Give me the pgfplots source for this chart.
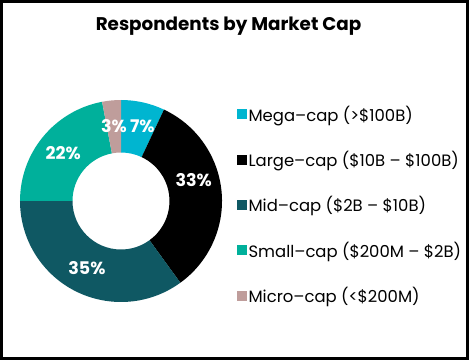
\documentclass[border=0pt]{standalone}
\usepackage{pgfplots}
\pgfplotsset{compat=1.18}
\usepackage{pgfplotstable}
\usepackage{fontspec}
\setmainfont{Poppins}
\definecolor{cMega}{HTML}{00B5D0}
\definecolor{cLarge}{HTML}{000000}
\definecolor{cMid}{HTML}{0F5863}
\definecolor{cSmall}{HTML}{00B09B}
\definecolor{cMicro}{HTML}{BF9D9B}

% slice value (percent), colour, label nudge (dx, dy)
\pgfplotstableread{
name  value color  dx dy
Mega  7     cMega  5  2
Large 33    cLarge -2 14
Mid   35    cMid   0  0
Small 22    cSmall 0  0
Micro 3     cMicro 0  0
}\slices

\pgfplotstablegetrowsof{\slices}
\pgfmathtruncatemacro{\nslices}{\pgfplotsretval-1}
\def\cum{0}
\pgfplotsforeachungrouped \i in {0,...,\nslices}{%
  \pgfplotstablegetelem{\i}{value}\of{\slices}\let\v\pgfplotsretval
  \pgfplotstablegetelem{\i}{color}\of{\slices}\let\c\pgfplotsretval
  \pgfplotstablegetelem{\i}{dx}\of{\slices}\let\dxv\pgfplotsretval
  \pgfplotstablegetelem{\i}{dy}\of{\slices}\let\dyv\pgfplotsretval
  \colorlet{slice\i}{\c}%
  \pgfmathsetmacro{\a}{90-3.6*\cum}%
  \pgfmathsetmacro{\b}{90-3.6*(\cum+\v)}%
  \pgfmathsetmacro{\lx}{75*cos((\a+\b)/2)+\dxv}%
  \pgfmathsetmacro{\ly}{75*sin((\a+\b)/2)+\dyv}%
  \expandafter\xdef\csname sA\i\endcsname{\a}%
  \expandafter\xdef\csname sB\i\endcsname{\b}%
  \expandafter\xdef\csname sX\i\endcsname{\lx}%
  \expandafter\xdef\csname sY\i\endcsname{\ly}%
  \expandafter\xdef\csname sV\i\endcsname{\v}%
  \pgfmathsetmacro{\cum}{\cum+\v}%
}

\begin{document}
\begin{tikzpicture}
\useasboundingbox (0,0) rectangle (469bp,360bp);
\begin{axis}[
  x=1bp, y=1bp,
  xmin=-121, xmax=348, ymin=-159, ymax=201,
  hide axis, clip=false,
  at={(0,0)}, anchor=south west,
  legend style={at={(axis cs:116,97.5)}, anchor=north west, draw=none, fill=none,
    font=\fontsize{16.5}{19}\selectfont, row sep=24.5bp, inner sep=0pt},
  legend cell align=left,
  /tikz/every even column/.append style={column sep=0bp},
]
\pgfplotsinvokeforeach{0,...,4}{
  \fill[slice#1] (axis cs:{101*cos(\csname sA#1\endcsname)},{101*sin(\csname sA#1\endcsname)})
    arc[start angle=\csname sA#1\endcsname, end angle=\csname sB#1\endcsname, radius=101bp]
    -- (axis cs:{48.5*cos(\csname sB#1\endcsname)},{48.5*sin(\csname sB#1\endcsname)})
    arc[start angle=\csname sB#1\endcsname, end angle=\csname sA#1\endcsname, radius=48.5bp]
    -- cycle;
}
\pgfplotsinvokeforeach{0,...,4}{
  \node[white, font=\bfseries\fontsize{17.5}{18}\selectfont, inner sep=0pt]
    at (axis cs:{\csname sX#1\endcsname},{\csname sY#1\endcsname}) {\csname sV#1\endcsname\%};
}
\addlegendimage{legend image code/.code={\fill[cMega] (0bp,-4.5bp) rectangle (9bp,4.5bp);}}
\addlegendentry{Mega–cap (>\$100B)}
\addlegendimage{legend image code/.code={\fill[cLarge] (0bp,-4.5bp) rectangle (9bp,4.5bp);}}
\addlegendentry{Large–cap (\$10B – \$100B)}
\addlegendimage{legend image code/.code={\fill[cMid] (0bp,-4.5bp) rectangle (9bp,4.5bp);}}
\addlegendentry{Mid–cap (\$2B – \$10B)}
\addlegendimage{legend image code/.code={\fill[cSmall] (0bp,-4.5bp) rectangle (9bp,4.5bp);}}
\addlegendentry{Small–cap (\$200M – \$2B)}
\addlegendimage{legend image code/.code={\fill[cMicro] (0bp,-4.5bp) rectangle (9bp,4.5bp);}}
\addlegendentry{Micro–cap (<\$200M)}
\node[font=\bfseries\fontsize{18.4}{20}\selectfont, inner sep=0pt] at (axis cs:107.5,175) {Respondents by Market Cap};
\end{axis}
\draw[line width=3bp] (1.5bp,1.5bp) rectangle (467.5bp,358.5bp);
\end{tikzpicture}
\end{document}
